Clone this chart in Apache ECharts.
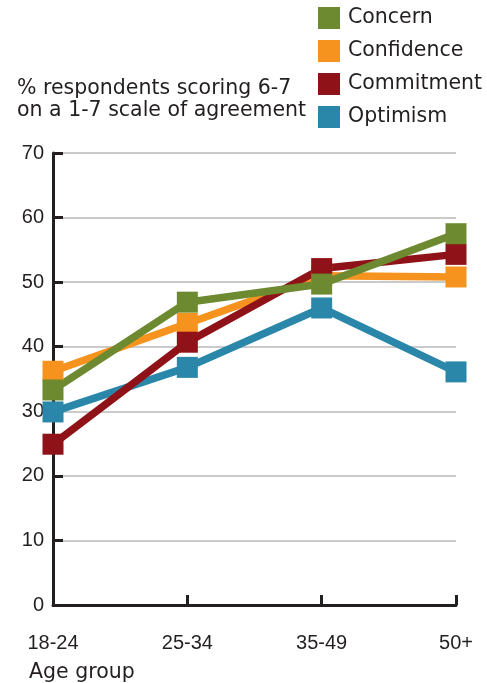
<!DOCTYPE html>
<html>
<head>
<meta charset="utf-8">
<script src="https://cdn.jsdelivr.net/npm/echarts@6/dist/echarts.min.js"></script>
<style>
  html, body { margin: 0; padding: 0; background: #fff; }
  #main { width: 487px; height: 683px; }
</style>
</head>
<body>
<div id="main"></div>
<script>
var ageGroups = ['18-24', '25-34', '35-49', '50+'];
var concern = [33.3, 46.9, 49.7, 57.5];
var confidence = [36.2, 43.6, 51, 50.8];
var commitment = [24.9, 40.7, 52.1, 54.3];
var optimism = [29.9, 36.8, 46.0, 36.1];
var legendNames = ['Concern', 'Confidence', 'Commitment', 'Optimism'];

var ink = '#231f20';
var textFont = 'DejaVu Sans';
var numFont = 'Liberation Sans';

function lineSeries(name, data, color) {
    return {
        name: name,
        type: 'line',
        data: data,
        symbol: 'rect',
        symbolSize: 21,
        showAllSymbol: true,
        lineStyle: { width: 7.5, color: color },
        itemStyle: { color: color },
        emphasis: { disabled: true },
        animation: false
    };
}

var myChart = echarts.init(document.getElementById('main'));
var option = {
    title: {
        text: '% respondents scoring 6-7\non a 1-7 scale of agreement',
        left: 17,
        top: 78,
        padding: 0,
        textStyle: {
            fontFamily: textFont,
            fontSize: 20.5,
            fontWeight: 'normal',
            lineHeight: 22,
            color: ink
        }
    },
    legend: {
        data: legendNames,
        orient: 'vertical',
        left: 318,
        top: 7,
        padding: 0,
        icon: 'rect',
        itemWidth: 22,
        itemHeight: 22,
        itemGap: 11,
        textStyle: {
            fontFamily: textFont,
            fontSize: 20.5,
            color: ink,
            padding: [0, 0, 0, 3]
        }
    },
    graphic: [{
        type: 'text',
        left: 29,
        top: 662,
        style: {
            text: 'Age group',
            fontFamily: textFont,
            fontSize: 20.5,
            fill: ink
        }
    }],
    grid: {
        left: 53,
        right: 31,
        top: 153,
        bottom: 78,
        containLabel: false
    },
    xAxis: {
        type: 'category',
        data: ageGroups,
        boundaryGap: false,
        axisLine: { lineStyle: { color: ink, width: 3 } },
        axisTick: { inside: true, length: 10, lineStyle: { color: ink, width: 3 } },
        axisLabel: {
            margin: 28,
            fontFamily: numFont,
            fontSize: 20,
            color: ink
        },
        splitLine: { show: false }
    },
    yAxis: {
        type: 'value',
        min: 0,
        max: 70,
        interval: 10,
        axisLine: { show: true, lineStyle: { color: ink, width: 3 } },
        axisTick: { show: true, inside: true, length: 10, lineStyle: { color: ink, width: 3 } },
        axisLabel: {
            margin: 9,
            fontFamily: numFont,
            fontSize: 20,
            color: ink
        },
        splitLine: { lineStyle: { color: '#cacaca', width: 2 } }
    },
    series: [
        lineSeries('Optimism', optimism, '#2b87a9'),
        lineSeries('Confidence', confidence, '#f6921e'),
        lineSeries('Commitment', commitment, '#8e1217'),
        lineSeries('Concern', concern, '#6d8a30')
    ]
};
myChart.setOption(option);
</script>
</body>
</html>
